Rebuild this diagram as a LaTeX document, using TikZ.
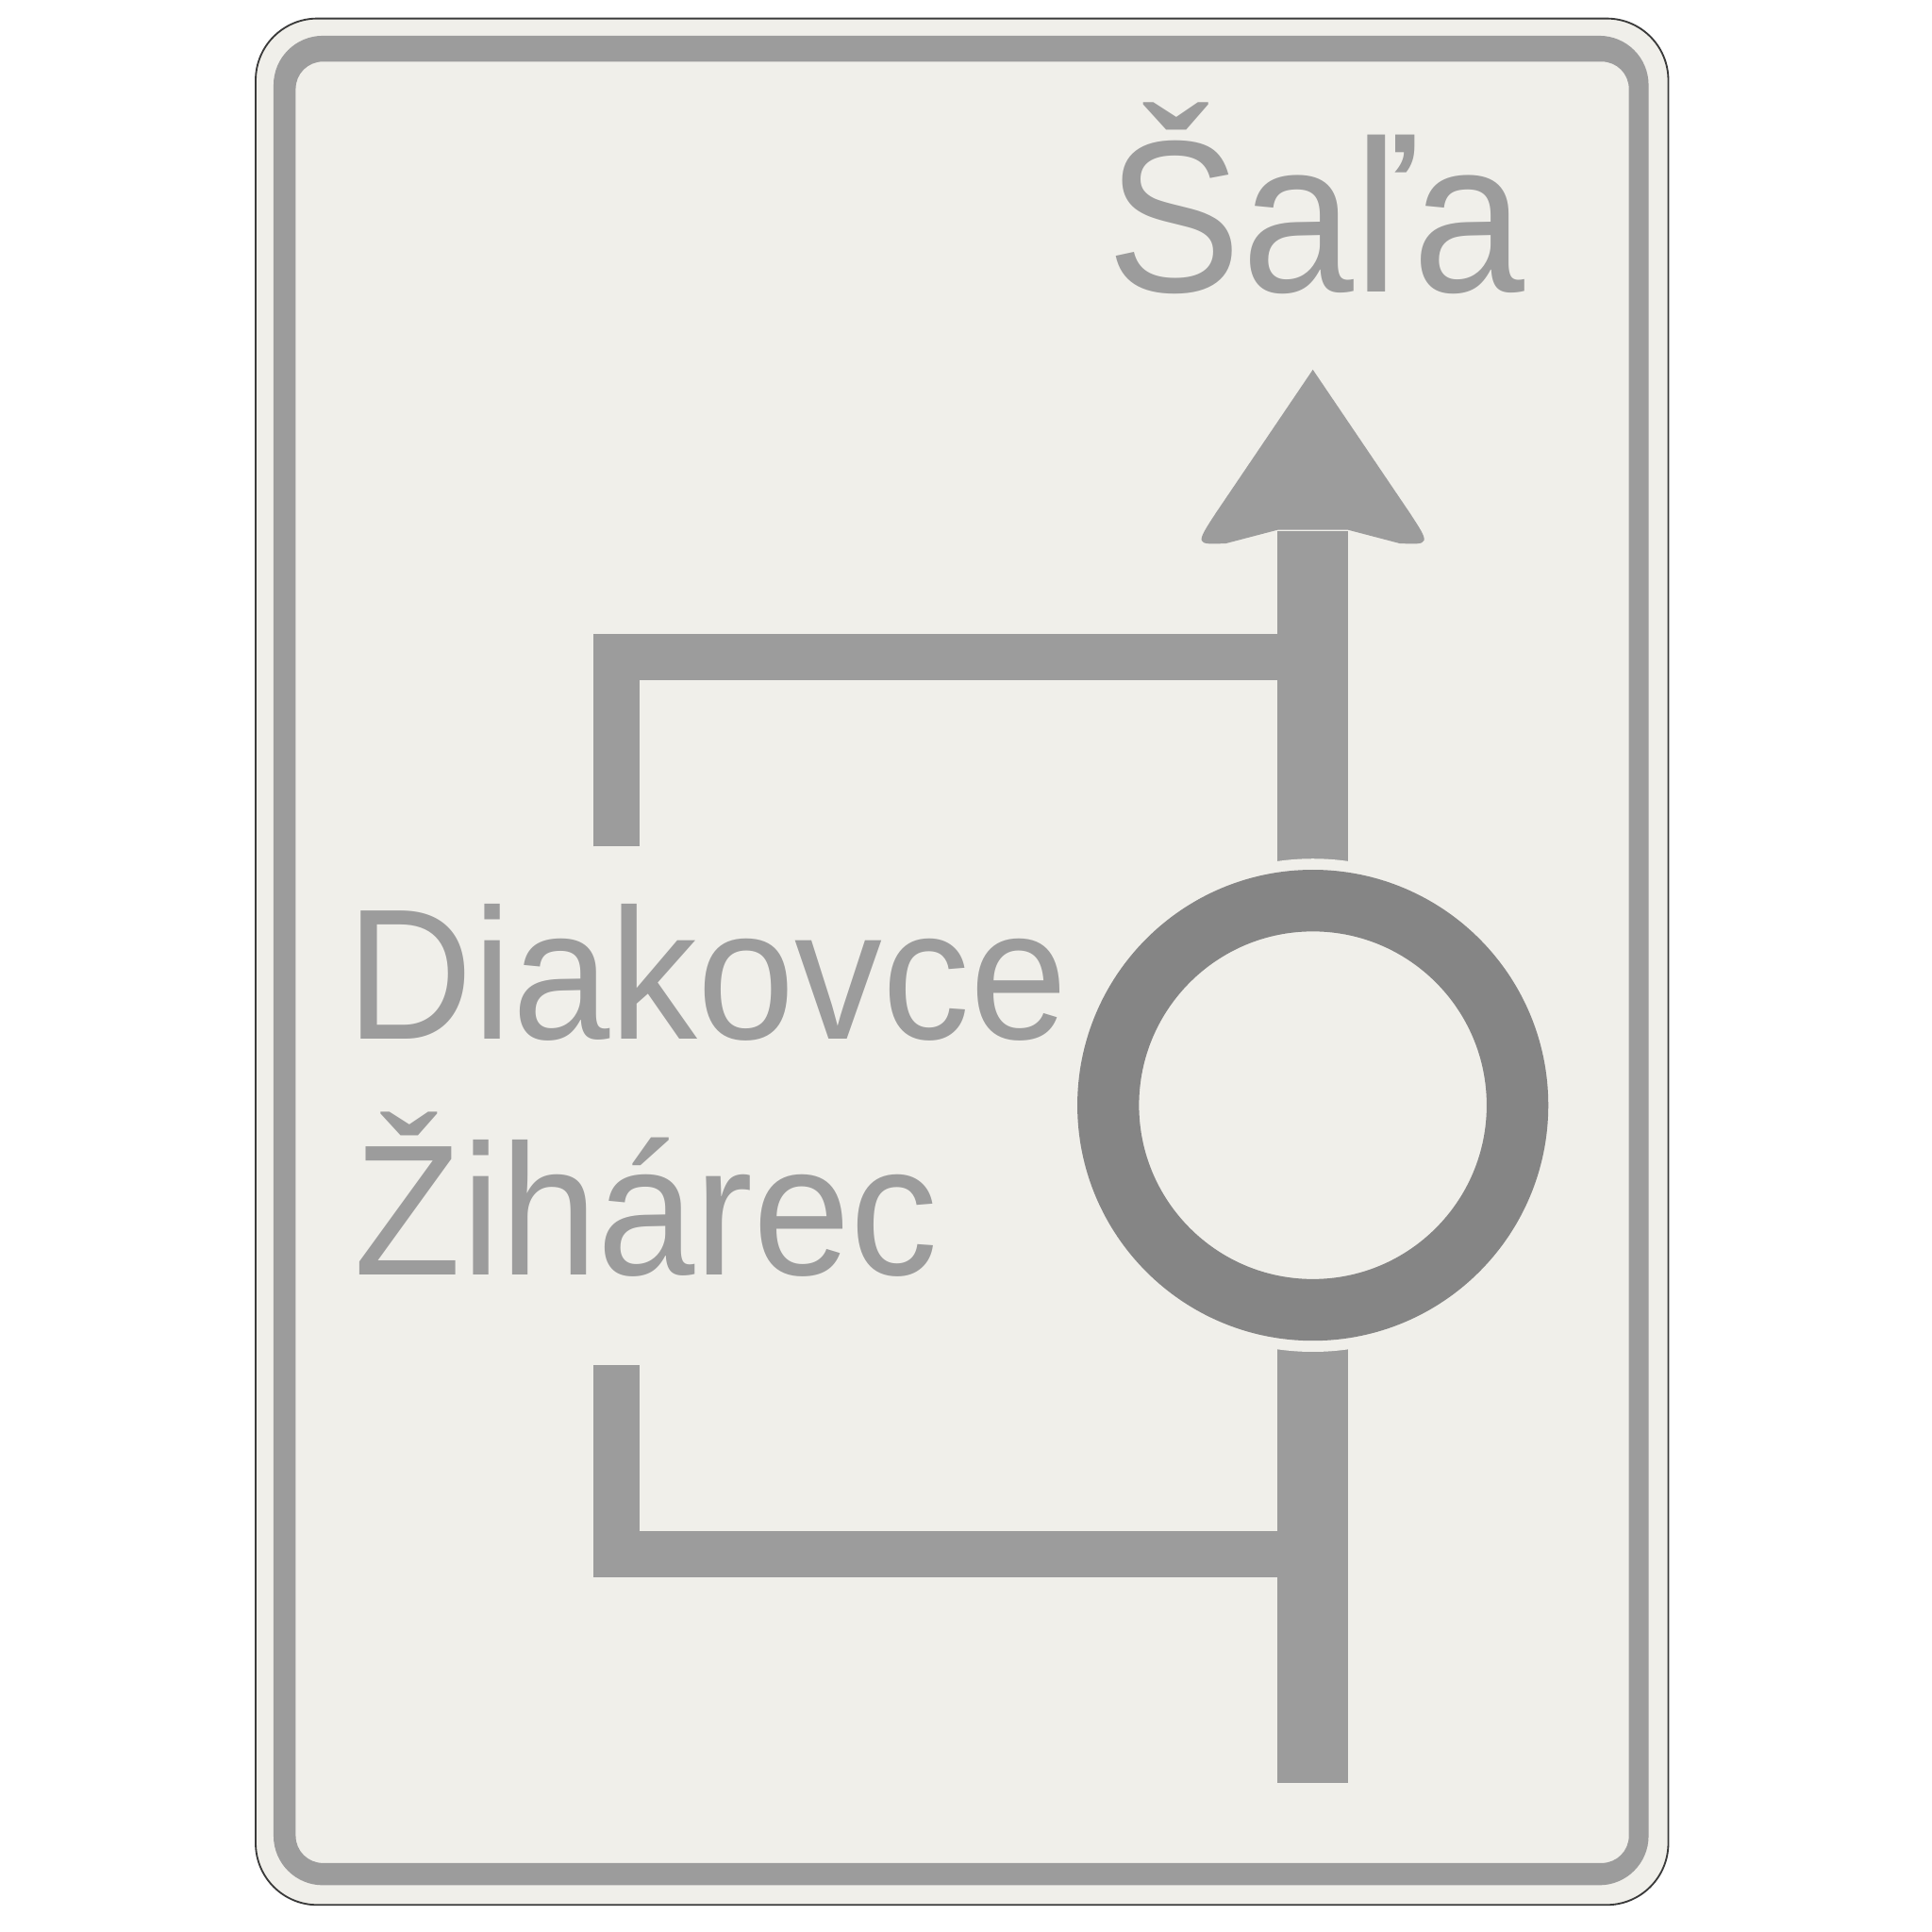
\documentclass[tikz,border=0pt]{standalone}
\usepackage{fontspec}
\setmainfont{Liberation Sans}
\definecolor{signbg}{HTML}{F0EFEA}
\definecolor{roadgray}{HTML}{9C9C9C}
\definecolor{ringgray}{HTML}{858585}
\definecolor{edgegray}{HTML}{3A3A3A}
\begin{document}
\begin{tikzpicture}[x=0.01cm, y=-0.01cm]
            \tikzset{road/.style={draw=roadgray, line cap=butt, line join=miter},
                     place/.style={anchor=base west, inner sep=0pt, text=roadgray}}
            \useasboundingbox (0,0) rectangle (1568,1568);
            % sign plate and frame
            \filldraw[fill=signbg, draw=edgegray, line width=0.4pt, rounded corners=0.5cm] (207.5,15) rectangle (1354,1546);
            \fill[roadgray, even odd rule] [rounded corners=0.4cm] (222,29) rectangle (1338,1530)
                [rounded corners=0.22cm] (240,50) rectangle (1322,1512);
            % junctions and roundabout
            \coordinate (rb) at (1065.5,897);
            \coordinate (jtop) at (1065.5,533.5);
            \coordinate (jbot) at (1065.5,1261.5);
            \coordinate (tip) at (1065.5,300);
            \draw[road, line width=0.375cm] (500,687) -- (500,533.5) -- (jtop);
            \draw[road, line width=0.375cm] (500,1108) -- (500,1261.5) -- (jbot);
            \draw[road, line width=0.57cm] (1065.5,1447) -- (1065.5,431);
            \fill[roadgray] (tip) -- (987,416) .. controls (970,442) .. (995,441) -- (1037,430)
                -- (1094,430) -- (1136,441) .. controls (1161,442) .. (1144,416) -- cycle;
            \fill[signbg] (rb) circle (2cm);
            \draw[ringgray, line width=0.5cm] (rb) circle (1.66cm);
            % destinations
            \node[place, font=\fontsize{50}{54}\selectfont] (sala) at (898,237) {\scalebox{0.93}[1]{Šaľa}};
            \node[place, font=\fontsize{43}{46}\selectfont] (diakovce) at (281,843) {\scalebox{0.94}[1]{Diakovce}};
            \node[place, font=\fontsize{43}{46}\selectfont] (ziharec) at (287,1035) {\scalebox{0.94}[1]{Žihárec}};
\end{tikzpicture}
\end{document}
